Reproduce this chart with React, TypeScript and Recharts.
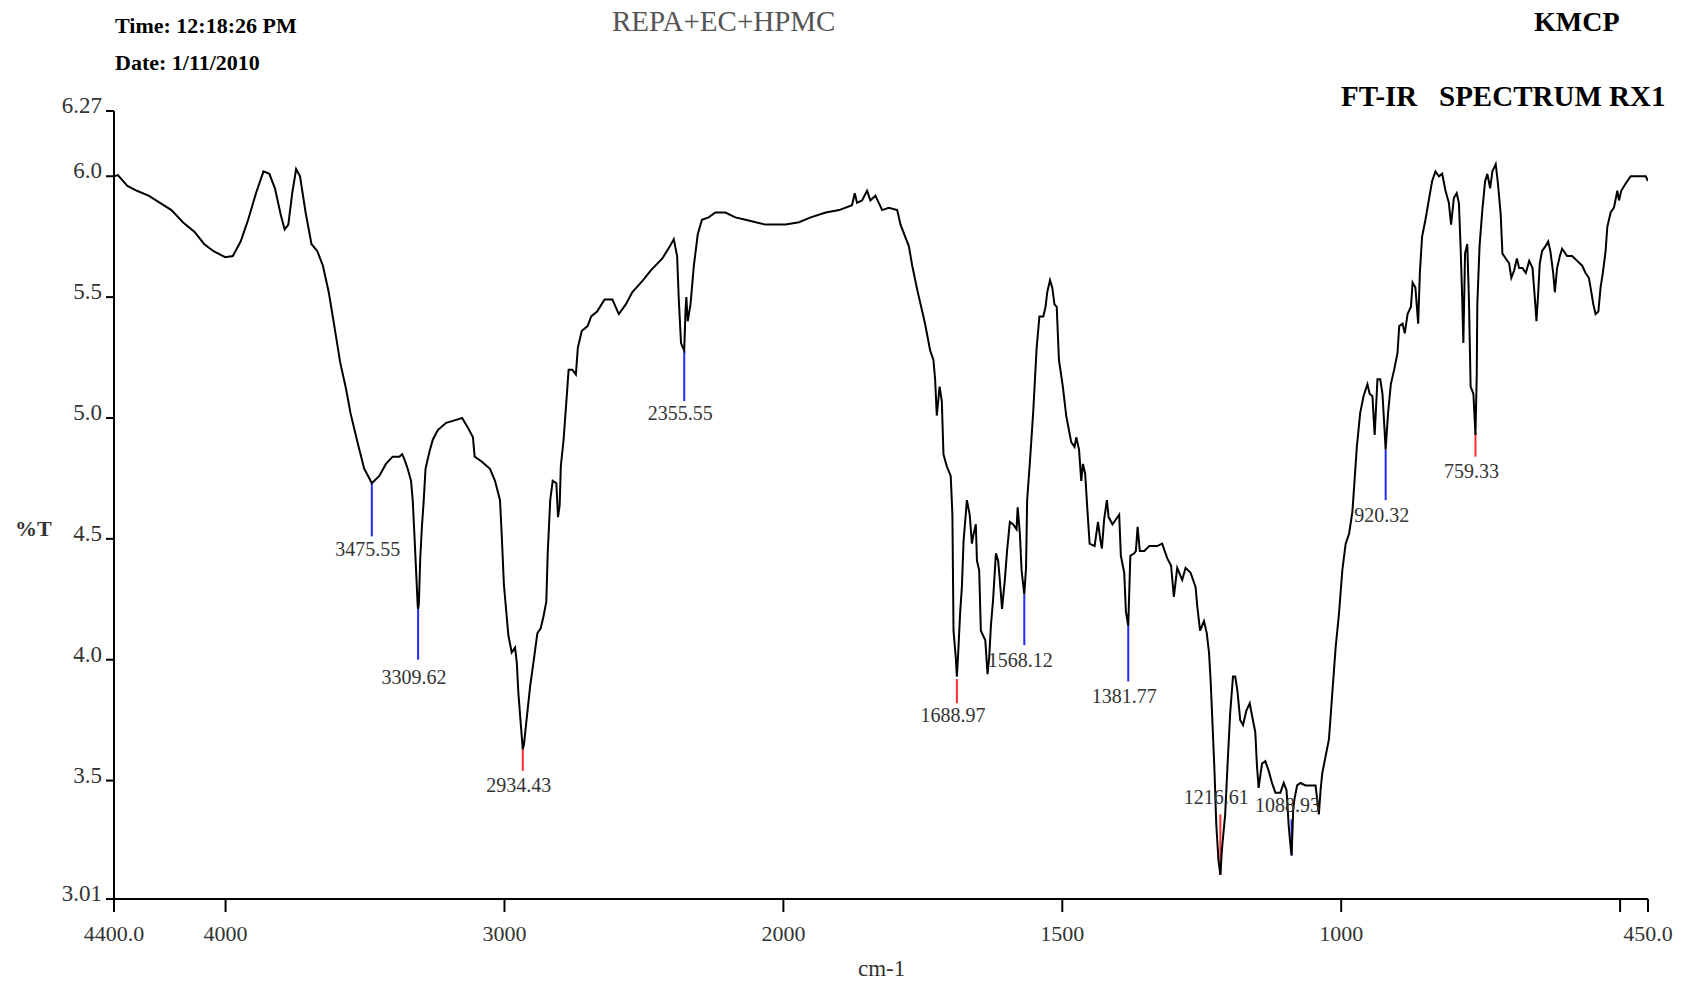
import React from 'react';
import {
  ComposedChart, Line, Scatter, XAxis, YAxis, ReferenceLine,
} from 'recharts';

// spectrum (cm-1, %T)
const wavenumbers = [
  4400, 4386, 4352, 4318, 4276, 4235, 4194, 4153, 4111, 4077, 4043, 4001, 3974, 3946, 3919, 3891, 3864, 3843, 3823, 3802,
  3788, 3775, 3761, 3747, 3733, 3713, 3692, 3671, 3651, 3630, 3610, 3589, 3568, 3552, 3527, 3503, 3489, 3475.55, 3449, 3425,
  3401, 3377, 3367, 3359, 3347, 3335, 3329, 3323, 3317, 3311, 3309.62, 3307, 3302, 3296, 3290, 3283, 3269, 3257, 3239, 3209,
  3179, 3152, 3131, 3113, 3107, 3082, 3052, 3034, 3016, 3010, 3002, 2986, 2974, 2962, 2956, 2950, 2942, 2934.43, 2930, 2920,
  2908, 2896, 2882, 2870, 2860, 2850, 2845, 2836, 2827, 2814, 2808, 2802, 2798, 2788, 2778, 2770, 2757, 2744, 2737, 2723,
  2702, 2689, 2668, 2641, 2613, 2590, 2565, 2542, 2503, 2476, 2434, 2407, 2393, 2381, 2375, 2367, 2360, 2355.55, 2351, 2348,
  2343, 2333, 2321, 2307, 2292, 2268, 2244, 2208, 2172, 2136, 2064, 1996, 1972, 1951, 1924, 1900, 1877, 1872, 1868, 1859,
  1850, 1844, 1835, 1823, 1811, 1796, 1790, 1775, 1769, 1760, 1754, 1746, 1737, 1731, 1728, 1725, 1720, 1716, 1713, 1707,
  1700, 1697, 1695, 1691, 1688.97, 1687, 1683, 1680, 1677, 1671, 1666, 1662, 1659, 1655, 1653, 1649, 1646, 1638, 1634, 1631,
  1628, 1624, 1619, 1615, 1612, 1608, 1603, 1599, 1594, 1588, 1582, 1580, 1576, 1573, 1568.12, 1565, 1563, 1558, 1552, 1546,
  1541, 1534, 1530, 1527, 1522, 1518, 1514, 1510, 1506, 1499, 1493, 1484, 1478, 1475, 1470, 1466, 1463, 1459, 1455, 1451,
  1442, 1436, 1432, 1429, 1425, 1420, 1417, 1410, 1404, 1398, 1395, 1389, 1386, 1381.77, 1378, 1371, 1368, 1365, 1361, 1353,
  1344, 1330, 1321, 1312, 1305, 1300, 1294, 1285, 1279, 1270, 1261, 1258, 1253, 1246, 1241, 1237, 1234, 1231, 1227, 1224,
  1220, 1216.61, 1213.6, 1208, 1203, 1199, 1194, 1190, 1186, 1181, 1176, 1170, 1164, 1160, 1154, 1151, 1148, 1142, 1136, 1130,
  1124, 1118, 1109, 1103, 1098, 1094, 1090.5, 1088.93, 1086, 1084, 1079, 1073, 1064, 1055, 1046, 1040, 1037, 1034, 1028, 1022,
  1016, 1010, 1004, 998, 992, 986, 980, 977, 972, 966, 960, 953, 949, 944, 940, 935, 930, 926, 920.32, 916,
  911, 905, 899, 896, 890, 886, 881, 875, 872, 867, 862, 859, 855, 849, 843, 837, 831, 825, 819, 813,
  807, 803, 798, 793, 789, 786, 783, 781, 778, 774, 771, 768, 763, 759.33, 757, 756, 752, 747, 742, 738,
  733, 729, 723, 719, 714, 711, 705, 699, 695, 690, 685, 681, 675, 669, 663, 657, 653, 650, 647, 644,
  640, 634, 629, 625, 620, 617, 613, 608, 604, 595, 586, 577, 568, 562, 556, 553, 548, 544, 539, 535,
  531, 526, 523, 517, 511, 505, 502, 498, 490, 481, 469, 454, 450,
];

const transmittance = [
  6.0, 6.005, 5.96, 5.94, 5.92, 5.89, 5.86, 5.81, 5.77, 5.72, 5.69, 5.665, 5.67, 5.73, 5.82, 5.93, 6.02, 6.01, 5.95, 5.84,
  5.78, 5.8, 5.93, 6.03, 6.0, 5.85, 5.72, 5.69, 5.63, 5.52, 5.38, 5.23, 5.12, 5.02, 4.9, 4.79, 4.76, 4.73, 4.76, 4.81,
  4.84, 4.84, 4.85, 4.83, 4.79, 4.74, 4.66, 4.52, 4.37, 4.22, 4.21, 4.23, 4.42, 4.55, 4.65, 4.79, 4.86, 4.91, 4.95, 4.98,
  4.99, 5.0, 4.96, 4.92, 4.84, 4.82, 4.79, 4.74, 4.66, 4.52, 4.31, 4.1, 4.03, 4.05, 3.99, 3.86, 3.74, 3.63, 3.65, 3.76,
  3.89, 3.99, 4.11, 4.13, 4.18, 4.24, 4.44, 4.66, 4.74, 4.73, 4.59, 4.64, 4.8, 4.91, 5.07, 5.2, 5.2, 5.18, 5.29, 5.36,
  5.38, 5.42, 5.44, 5.49, 5.49, 5.43, 5.47, 5.52, 5.57, 5.61, 5.66, 5.71, 5.74, 5.67, 5.49, 5.31, 5.29, 5.28, 5.44, 5.5,
  5.4, 5.47, 5.63, 5.76, 5.82, 5.83, 5.85, 5.85, 5.83, 5.82, 5.8, 5.8, 5.81, 5.83, 5.85, 5.86, 5.88, 5.93, 5.89, 5.9,
  5.94, 5.9, 5.92, 5.86, 5.87, 5.86, 5.8, 5.71, 5.63, 5.53, 5.47, 5.39, 5.28, 5.24, 5.16, 5.01, 5.13, 5.07, 4.85, 4.8,
  4.76, 4.6, 4.12, 4.01, 3.93, 4.01, 4.2, 4.3, 4.49, 4.66, 4.6, 4.48, 4.52, 4.56, 4.41, 4.37, 4.12, 4.08, 3.94, 4.01,
  4.14, 4.25, 4.44, 4.41, 4.33, 4.21, 4.33, 4.45, 4.57, 4.56, 4.54, 4.63, 4.52, 4.37, 4.27, 4.38, 4.66, 4.82, 5.03, 5.29,
  5.42, 5.42, 5.46, 5.52, 5.57, 5.54, 5.47, 5.46, 5.24, 5.13, 5.01, 4.9, 4.88, 4.92, 4.87, 4.74, 4.81, 4.77, 4.62, 4.48,
  4.47, 4.57, 4.5, 4.46, 4.58, 4.66, 4.59, 4.56, 4.58, 4.6, 4.43, 4.36, 4.2, 4.14, 4.43, 4.44, 4.45, 4.55, 4.45, 4.45,
  4.47, 4.47, 4.48, 4.42, 4.39, 4.26, 4.38, 4.33, 4.38, 4.36, 4.3, 4.22, 4.12, 4.16, 4.11, 4.03, 3.91, 3.75, 3.53, 3.32,
  3.17, 3.11, 3.22, 3.36, 3.6, 3.78, 3.93, 3.93, 3.87, 3.75, 3.73, 3.79, 3.82, 3.77, 3.7, 3.56, 3.47, 3.57, 3.58, 3.54,
  3.49, 3.45, 3.45, 3.49, 3.46, 3.31, 3.22, 3.19, 3.38, 3.42, 3.48, 3.49, 3.48, 3.48, 3.48, 3.36, 3.46, 3.53, 3.6, 3.67,
  3.86, 4.05, 4.19, 4.37, 4.48, 4.52, 4.61, 4.71, 4.88, 5.02, 5.09, 5.14, 5.1, 5.09, 4.93, 5.16, 5.16, 5.1, 4.87, 5.02,
  5.14, 5.2, 5.27, 5.38, 5.39, 5.35, 5.43, 5.46, 5.56, 5.54, 5.39, 5.6, 5.75, 5.82, 5.9, 5.98, 6.02, 6.0, 6.01, 5.94,
  5.89, 5.8, 5.91, 5.93, 5.89, 5.71, 5.49, 5.31, 5.68, 5.72, 5.49, 5.13, 5.1, 4.93, 5.18, 5.47, 5.71, 5.86, 5.98, 6.01,
  5.95, 6.02, 6.05, 5.97, 5.84, 5.68, 5.66, 5.64, 5.58, 5.61, 5.66, 5.62, 5.62, 5.6, 5.65, 5.62, 5.5, 5.4, 5.51, 5.64,
  5.69, 5.71, 5.73, 5.69, 5.6, 5.52, 5.62, 5.67, 5.7, 5.67, 5.67, 5.65, 5.63, 5.6, 5.58, 5.54, 5.47, 5.43, 5.44, 5.54,
  5.6, 5.69, 5.79, 5.85, 5.87, 5.94, 5.9, 5.94, 5.97, 6.0, 6.0, 6.0, 5.98,
];

// marked peaks
const peakWavenumbers = [3475.55, 3309.62, 2934.43, 2355.55, 1688.97, 1568.12, 1381.77, 1216.61, 1088.93, 920.32, 759.33];
const peakLineFrom = [4.73, 4.21, 3.63, 5.28, 3.92, 4.27, 4.14, 3.11, 3.19, 4.87, 4.94];
const peakLineTo = [4.51, 4.0, 3.54, 5.07, 3.82, 4.06, 3.91, 3.36, 3.34, 4.66, 4.84];
const peakLabelAt = [4.46, 3.93, 3.48, 5.02, 3.77, 4.0, 3.85, 3.43, 3.40, 4.6, 4.78];
const peakColors = ['blue', 'blue', 'red', 'blue', 'red', 'blue', 'blue', 'red', 'blue', 'blue', 'red'];

const xTickValues = [4400, 4000, 3000, 2000, 1500, 1000, 500, 450];
const xTickLabels = ['4400.0', '4000', '3000', '2000', '1500', '1000', '', '450.0'];
const yTickValues = [6.27, 6.0, 5.5, 5.0, 4.5, 4.0, 3.5, 3.01];
const yTickLabels = ['6.27', '6.0', '5.5', '5.0', '4.5', '4.0', '3.5', '3.01'];

const LINE_COLORS: Record<string, string> = { blue: '#1f2bff', red: '#ff2a2a' };
const SERIF = '"Liberation Serif", "Times New Roman", serif';

// the instrument doubles the scale below 2000 cm-1, so plot on a stretched axis
const toPlot = (w: number) => (w >= 2000 ? w : 2 * w - 2000);

const spectrum = wavenumbers.map((w, i) => ({ u: toPlot(w), T: transmittance[i] }));
const peakLabels = peakWavenumbers.map((w, i) => ({ u: toPlot(w), T: peakLabelAt[i], label: w.toFixed(2) }));

const XTick = ({ x, y, payload }: any) => {
  const idx = xTickValues.findIndex(v => Math.abs(toPlot(v) - payload.value) < 0.01);
  return (
    <text x={x} y={y} dy={27} textAnchor="middle" fontFamily={SERIF} fontSize={22} fill="#333">
      {idx >= 0 ? xTickLabels[idx] : ''}
    </text>
  );
};

const YTick = ({ x, y, payload }: any) => {
  const idx = yTickValues.findIndex(v => Math.abs(v - payload.value) < 0.001);
  return (
    <text x={x} y={y} dy={2} textAnchor="end" fontFamily={SERIF} fontSize={23} fill="#333">
      {idx >= 0 ? yTickLabels[idx] : ''}
    </text>
  );
};

const PeakLabel = ({ cx, cy, payload }: any) => (
  <text x={cx - 4} y={cy} textAnchor="middle" dominantBaseline="central" fontFamily={SERIF} fontSize={20} fill="#333">
    {payload.label}
  </text>
);

const textBase: React.CSSProperties = { position: 'absolute', fontFamily: SERIF, lineHeight: 1, whiteSpace: 'pre', margin: 0 };

export default function App() {
  return (
    <div style={{ position: 'absolute', left: 0, top: 0, width: 1692, height: 987, background: '#fff' }}>
      <ComposedChart
        width={1692}
        height={987}
        data={spectrum}
        margin={{ top: 111, right: 44, left: 54, bottom: 48 }}
      >
        <XAxis
          dataKey="u"
          type="number"
          domain={[-1100, 4400]}
          reversed
          allowDataOverflow
          ticks={xTickValues.map(toPlot)}
          interval={0}
          height={40}
          stroke="#000"
          strokeWidth={2}
          tickSize={13}
          tick={<XTick />}
        />
        <YAxis
          type="number"
          domain={[3.01, 6.27]}
          allowDataOverflow
          ticks={yTickValues}
          interval={0}
          width={60}
          stroke="#000"
          strokeWidth={2}
          tickSize={8}
          tickMargin={4}
          tick={<YTick />}
        />
        {peakWavenumbers.map((w, i) => (
          <ReferenceLine
            key={w}
            segment={[{ x: toPlot(w), y: peakLineFrom[i] }, { x: toPlot(w), y: peakLineTo[i] }]}
            stroke={LINE_COLORS[peakColors[i]]}
            strokeWidth={2}
          />
        ))}
        <Line
          type="linear"
          dataKey="T"
          stroke="#000"
          strokeWidth={2}
          dot={false}
          activeDot={false}
          isAnimationActive={false}
        />
        <Scatter data={peakLabels} dataKey="T" shape={<PeakLabel />} isAnimationActive={false} />
      </ComposedChart>

      <div style={{ ...textBase, left: 115, top: 15, fontSize: 22, fontWeight: 'bold' }}>Time: 12:18:26 PM</div>
      <div style={{ ...textBase, left: 115, top: 52, fontSize: 22, fontWeight: 'bold' }}>Date: 1/11/2010</div>
      <div style={{ ...textBase, left: 612, top: 7, fontSize: 29, color: '#555' }}>REPA+EC+HPMC</div>
      <div style={{ ...textBase, left: 1534, top: 8, fontSize: 28, fontWeight: 'bold' }}>KMCP</div>
      <div style={{ ...textBase, left: 1341, top: 82, fontSize: 29, fontWeight: 'bold' }}>FT-IR   SPECTRUM RX1</div>
      <div style={{ ...textBase, left: 15, top: 518, fontSize: 22, fontWeight: 'bold', color: '#333' }}>%T</div>
      <div style={{ ...textBase, left: 858, top: 957, fontSize: 23, color: '#333' }}>cm-1</div>
    </div>
  );
}
